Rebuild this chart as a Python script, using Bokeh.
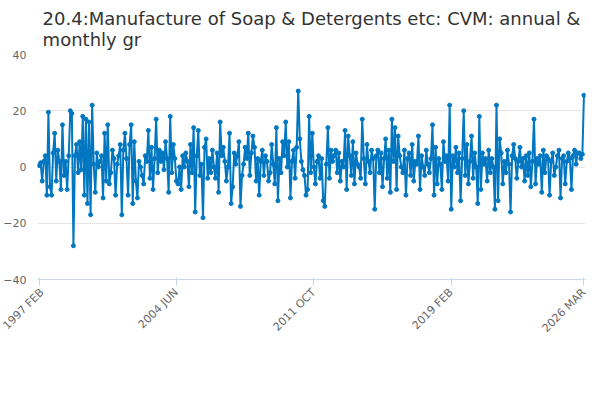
from bokeh.plotting import figure
from bokeh.models import Legend, LegendItem, FixedTicker, ColumnDataSource, Div
from bokeh.layouts import column
from bokeh.embed import file_html
from bokeh.resources import INLINE

values = [0.5,1.5,-5,2,4,-10,19.5,-7,-10,5,12,
-5,6,2,-8,15,-3,2,-8,4,20,19,-28,
4,8,-2,9,-1,18,-10,17,-13,16,-17,22,
1,-9,5,0,2,4,-11,12,-5,15,-6,-2,
6,3,-10,1,4,8,-17,6,12,3,-10,8,
15,-13,9,-5,-11,2,0,-3,-6,4,2,13,
-4,7,-8,3,17,-2,6,2,5,-1,9,3,
-9,18,-2,8,3,-5,-6,0,-8,4,0,5,
2,-7,8,-2,14,-16,4,13,-3,1,-18,7,
10,-4,3,-2,6,0,-4,5,-9,16,4,7,
2,-5,0,12,-13,-7,5,1,4,9,-14,-3,
1,7,3,12,-3,5,11,7,-5,3,-10,2,
6,-3,4,2,-5,-2,8,1,-6,14,-12,3,
-2,9,4,16,0,9,-11,2,6,-4,7,27,
10,2,-1,-3,-10,-8,18,-2,12,0,-6,2,
4,-4,3,-12,-14,1,14,-4,6,2,4,6,
-2,5,-5,2,0,13,-8,11,4,-3,9,-6,
5,1,0,-4,17,3,-6,8,2,-2,6,3,
-15,4,6,-2,5,-7,3,10,-4,6,-9,17,
2,14,-8,11,4,0,-2,6,-10,3,5,-3,
8,-5,2,1,11,-8,4,0,-3,6,1,-2,
3,15,-10,7,-6,3,1,-8,9,2,4,-5,
22,-15,4,0,7,-2,5,-12,3,20,-3,8,
-6,2,11,-4,5,0,-13,18,-8,5,1,3,
-5,6,-2,3,0,-15,22,-12,10,5,-6,2,
-2,6,1,-16,4,8,3,-4,2,7,0,3,
-5,4,-3,5,-7,2,17,-6,3,1,4,-9,
6,-2,4,3,-10,2,5,-3,0,4,6,-11,
3,4,-6,2,5,3,-8,4,6,1,5,5,
3,4.5,25.5]
tick_idx = [0, 88, 176, 264, 349]
tick_labels = ["1997 FEB", "2004 JUN", "2011 OCT", "2019 FEB", "2026 MAR"]
series_name = "20.4:Manufacture of Soap & Detergents etc: CVM: annual & monthly gr"

x = list(range(len(values)))
src = ColumnDataSource(dict(x=x, y=values))
p = figure(frame_width=548, frame_height=225, output_backend="svg", toolbar_location=None,
           x_range=(-1, len(values)), y_range=(-40, 40), min_border_left=27, min_border_right=9,
           min_border_top=5)
p.title.text = "20.4:Manufacture of Soap & Detergents etc: CVM: annual &\nmonthly gr"
p.title.align = "center"
p.title.text_font = "DejaVu Sans"
p.title.text_font_size = "18px"
p.title.text_font_style = "normal"
p.title.text_color = "#333333"
l = p.line("x", "y", source=src, color="#0077c0", line_width=2)
c = p.scatter("x", "y", source=src, color="#0077c0", size=4)
p.xaxis.ticker = FixedTicker(ticks=tick_idx)
p.xaxis.major_label_overrides = {i: s for i, s in zip(tick_idx, tick_labels)}
p.xaxis.major_label_orientation = 0.785
p.yaxis.ticker = FixedTicker(ticks=[-40, -20, 0, 20, 40])
for ax in (p.xaxis, p.yaxis):
    ax.major_label_text_color = "#666666"
    ax.major_label_text_font_size = "11px"
    ax.major_label_text_font = "DejaVu Sans"
    ax.minor_tick_line_color = None
p.yaxis.axis_line_color = None
p.yaxis.major_tick_line_color = None
p.xaxis.axis_line_color = "#ccd6eb"
p.xaxis.major_tick_line_color = "#ccd6eb"
p.xgrid.grid_line_color = None
p.ygrid.grid_line_color = "#e6e6e6"
p.outline_line_color = None
leg = Legend(items=[LegendItem(label=series_name, renderers=[l, c])],
             orientation="horizontal", border_line_color=None, label_text_font_size="12px",
             label_text_font_style="bold", label_text_color="#333333", label_text_font="DejaVu Sans",
             glyph_width=20, margin=4, padding=2, location="center")
p.add_layout(leg, "below")
src_div = Div(text='<div style="text-align:right;font:12px DejaVu Sans;color:#666;">Source:</div>',
              width=580, height=14, margin=(-6, 0, 0, 0))
open("out.html", "w").write(file_html(column(p, src_div), INLINE))
